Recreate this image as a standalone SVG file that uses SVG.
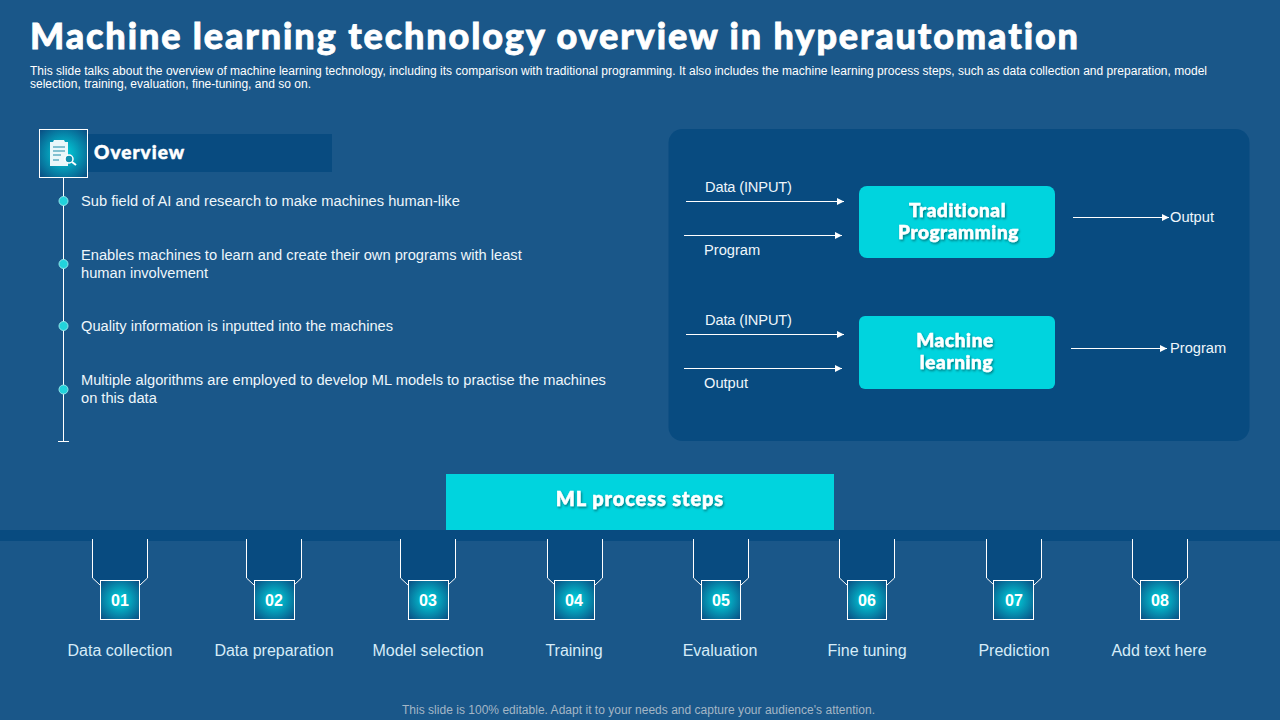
<svg xmlns="http://www.w3.org/2000/svg" width="1280" height="720" viewBox="0 0 1280 720">
<style>
text{font-family:"Liberation Sans",Arial,sans-serif;fill:#fff}
.t{font-size:14.67px;fill:#eef6fb}
.s{font-size:12px}
.f{font-family:Lato,"Liberation Sans",sans-serif;font-weight:900;font-variant-ligatures:none;stroke:#fff;stroke-width:.5}
.h{text-anchor:middle;font-size:19px;letter-spacing:.6px;filter:url(#sh)}
.lab{font-size:16px;text-anchor:middle;fill:#d6ecf8}
.n{font-size:16px;font-weight:700;text-anchor:middle}
.ln{stroke:#fff;stroke-width:1;fill:none}
.dot{fill:#22d3dc;stroke:#8fe6ea;stroke-width:1}
.tab{fill:#084b80}
.edge{fill:none;stroke:#fff;stroke-width:1}
.box{fill:url(#rg);stroke:#fff;stroke-width:1}
</style>
<defs>
<radialGradient id="rg" r="0.68"><stop offset="0" stop-color="#00d4de"/><stop offset="0.35" stop-color="#04a8c0"/><stop offset="1" stop-color="#0a4f84"/></radialGradient>
<marker id="a" markerWidth="8" markerHeight="8" refX="7" refY="4" orient="auto" markerUnits="userSpaceOnUse"><path d="M0 .5L7 4L0 7.500Z" fill="#fff"/></marker>
<filter id="sh" x="-10%" y="-20%" width="120%" height="150%"><feDropShadow dx="1" dy="1.5" stdDeviation="0.8" flood-color="#000" flood-opacity="0.45"/></filter>
</defs>
<rect width="1280" height="720" fill="#1a5789"/>
<text class="f" x="30" y="49" font-size="36" textLength="1048" lengthAdjust="spacing" style="stroke-width:.8">Machine learning technology overview in hyperautomation</text>
<text class="s" x="30" y="75" textLength="1177" lengthAdjust="spacing">This slide talks about the overview of machine learning technology, including its comparison with traditional programming. It also includes the machine learning process steps, such as data collection and preparation, model</text>
<text class="s" x="30" y="88" textLength="281" lengthAdjust="spacing">selection, training, evaluation, fine-tuning, and so on.</text>

<g id="overview">
<rect x="88" y="134" width="244" height="38" fill="#084b80"/>
<line x1="63.500" y1="178" x2="63.500" y2="441" class="ln"/>
<line x1="58" y1="441.500" x2="69" y2="441.500" class="ln"/>
<rect x="39.500" y="129.500" width="48" height="48" class="box"/>
<path d="M50 142h3l1-2h10l1 2h3v24H50Z" fill="#eaf7fa"/>
<path d="M53 147h12M53 151h12M53 155h8M53 160h6" stroke="#1a8aa8" stroke-width="1"/>
<circle cx="69" cy="159" r="4" fill="#0f8fae" stroke="#fff" stroke-width="1.500"/>
<line x1="72" y1="162" x2="76" y2="165" stroke="#fff" stroke-width="2"/>
<text class="f" x="94" y="159" font-size="19" letter-spacing="1.000">Overview</text>
<circle cx="63.500" cy="201" r="4.500" class="dot"/>
<circle cx="63.500" cy="264" r="4.500" class="dot"/>
<circle cx="63.500" cy="326" r="4.500" class="dot"/>
<circle cx="63.500" cy="389.500" r="4.500" class="dot"/>
<text class="t" x="81" y="206">Sub field of AI and research to make machines human-like</text>
<text class="t" x="81" y="260">Enables machines to learn and create their own programs with least</text>
<text class="t" x="81" y="278">human involvement</text>
<text class="t" x="81" y="331">Quality information is inputted into the machines</text>
<text class="t" x="81" y="385">Multiple algorithms are employed to develop ML models to practise the machines</text>
<text class="t" x="81" y="403">on this data</text>
</g>

<rect id="panel" x="668.500" y="129" width="581" height="312" rx="14" fill="#084b80"/>
<g id="node-traditional">
<rect x="859" y="186" width="196" height="72" rx="8" fill="#00d4de"/>
<text class="f h" x="957.500" y="217">Traditional</text>
<text class="f h" x="958.500" y="239">Programming</text>
</g>
<g id="node-ml">
<rect x="859" y="316" width="196" height="73" rx="6" fill="#00d4de"/>
<text class="f h" x="955" y="347">Machine</text>
<text class="f h" x="956.500" y="369">learning</text>
</g>
<g id="connectors">
<line x1="686" y1="201.500" x2="844" y2="201.500" class="edge" marker-end="url(#a)"/>
<line x1="684" y1="235.500" x2="842" y2="235.500" class="edge" marker-end="url(#a)"/>
<line x1="1073" y1="217.500" x2="1169" y2="217.500" class="edge" marker-end="url(#a)"/>
<line x1="686" y1="334.500" x2="844" y2="334.500" class="edge" marker-end="url(#a)"/>
<line x1="684" y1="368.500" x2="842" y2="368.500" class="edge" marker-end="url(#a)"/>
<line x1="1071" y1="348.500" x2="1167" y2="348.500" class="edge" marker-end="url(#a)"/>
</g>
<g id="labels">
<text class="t" x="705" y="192" textLength="87" lengthAdjust="spacing">Data (INPUT)</text>
<text class="t" x="704" y="255">Program</text>
<text class="t" x="1170" y="222">Output</text>
<text class="t" x="705" y="325" textLength="87" lengthAdjust="spacing">Data (INPUT)</text>
<text class="t" x="704" y="388">Output</text>
<text class="t" x="1170" y="353">Program</text>
</g>

<rect id="band" x="0" y="530" width="1280" height="11" fill="#084b80"/>
<g id="process-header">
<rect x="446" y="474" width="388" height="56" fill="#00d4de"/>
<text class="f h" x="640" y="506" style="font-size:20px;letter-spacing:.9px">ML process steps</text>
</g>

<g id="step-1"><path class="tab" d="M92.500 539H147.500V578L140 585V590H100V585L92.500 578Z"/><path class="edge" d="M92.500 539V578L100 585M147.500 539V578L140 585"/><rect class="box" x="100.500" y="580.500" width="39" height="39"/><text class="n" x="120" y="606">01</text><text class="lab" x="120" y="656">Data collection</text></g>
<g id="step-2"><path class="tab" d="M246.500 539H301.500V578L294 585V590H254V585L246.500 578Z"/><path class="edge" d="M246.500 539V578L254 585M301.500 539V578L294 585"/><rect class="box" x="254.500" y="580.500" width="40" height="39"/><text class="n" x="274" y="606">02</text><text class="lab" x="274" y="656">Data preparation</text></g>
<g id="step-3"><path class="tab" d="M400.500 539H455.500V578L448 585V590H408V585L400.500 578Z"/><path class="edge" d="M400.500 539V578L408 585M455.500 539V578L448 585"/><rect class="box" x="408.500" y="580.500" width="40" height="39"/><text class="n" x="428" y="606">03</text><text class="lab" x="428" y="656">Model selection</text></g>
<g id="step-4"><path class="tab" d="M547.500 539H602.500V578L595 585V590H555V585L547.500 578Z"/><path class="edge" d="M547.500 539V578L555 585M602.500 539V578L595 585"/><rect class="box" x="554.500" y="580.500" width="40" height="39"/><text class="n" x="574" y="606">04</text><text class="lab" x="574" y="656">Training</text></g>
<g id="step-5"><path class="tab" d="M693.500 539H748.500V578L741 585V590H701V585L693.500 578Z"/><path class="edge" d="M693.500 539V578L701 585M748.500 539V578L741 585"/><rect class="box" x="701.500" y="580.500" width="39" height="39"/><text class="n" x="721" y="606">05</text><text class="lab" x="720" y="656">Evaluation</text></g>
<g id="step-6"><path class="tab" d="M839.500 539H894.500V578L887 585V590H847V585L839.500 578Z"/><path class="edge" d="M839.500 539V578L847 585M894.500 539V578L887 585"/><rect class="box" x="847.500" y="580.500" width="39" height="39"/><text class="n" x="867" y="606">06</text><text class="lab" x="867" y="656">Fine tuning</text></g>
<g id="step-7"><path class="tab" d="M986.500 539H1041.500V578L1034 585V590H994V585L986.500 578Z"/><path class="edge" d="M986.500 539V578L994 585M1041.500 539V578L1034 585"/><rect class="box" x="993.500" y="580.500" width="40" height="39"/><text class="n" x="1014" y="606">07</text><text class="lab" x="1014" y="656">Prediction</text></g>
<g id="step-8"><path class="tab" d="M1132.500 539H1187.500V578L1180 585V590H1140V585L1132.500 578Z"/><path class="edge" d="M1132.500 539V578L1140 585M1187.500 539V578L1180 585"/><rect class="box" x="1140.500" y="580.500" width="39" height="39"/><text class="n" x="1160" y="606">08</text><text class="lab" x="1159" y="656">Add text here</text></g>

<text x="402" y="714" font-size="12" textLength="473" lengthAdjust="spacing" style="fill:#a3b6c6">This slide is 100% editable. Adapt it to your needs and capture your audience's attention.</text>
</svg>
